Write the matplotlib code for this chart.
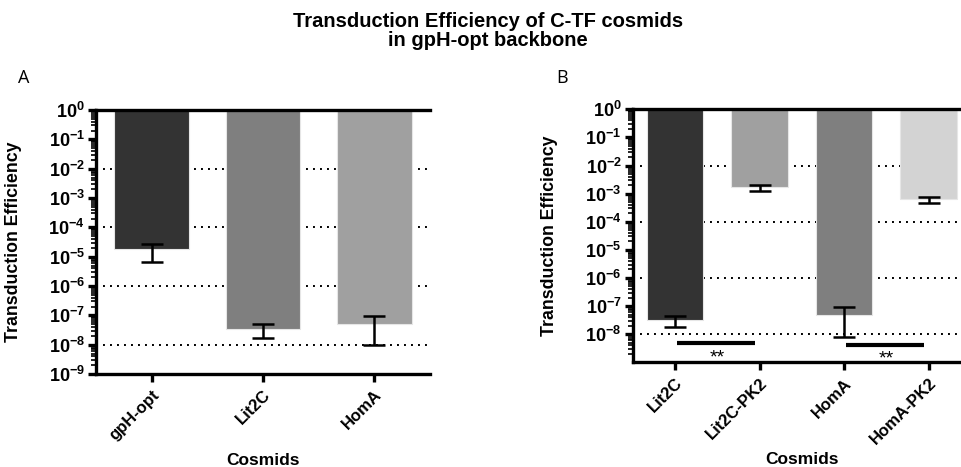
import numpy as np
import matplotlib
matplotlib.use("Agg")
import matplotlib.pyplot as plt
from matplotlib.ticker import FixedLocator, LogLocator, NullFormatter

plt.rcParams['font.family'] = ['Liberation Sans', 'DejaVu Sans']

# --- data ---
# panel A
cosmids_a = ['gpH-opt', 'Lit2C', 'HomA']
eff_a = [1.8e-5, 3.3e-8, 5.2e-8]
err_hi_a = [2.75e-5, 4.9e-8, 9.3e-8]
err_lo_a = [6.5e-6, 1.75e-8, 1.0e-8]
colors_a = ['#333333', '#7f7f7f', '#a0a0a0']

# panel B
cosmids_b = ['Lit2C', 'Lit2C-PK2', 'HomA', 'HomA-PK2']
eff_b = [3.2e-8, 1.7e-3, 5.0e-8, 6.3e-4]
err_hi_b = [4.5e-8, 2.1e-3, 9.5e-8, 7.8e-4]
err_lo_b = [1.75e-8, 1.27e-3, 8.1e-9, 4.8e-4]
colors_b = ['#333333', '#a0a0a0', '#7f7f7f', '#d3d3d3']

# significance brackets in panel B: (from bar, to bar, line level, label)
sig_pairs = [(0, 1, 4.8e-9, '**'), (2, 3, 4.1e-9, '**')]

grid_levels = [1e-2, 1e-4, 1e-6, 1e-8]


def style_axis(ax, exps):
    ax.set_yscale('log')
    ax.set_ylim(1e-9, 1e0)
    for lvl in grid_levels:
        ax.axhline(lvl, color='black', lw=1.4, linestyle=(0, (1, 2.6)), zorder=0)
    ax.yaxis.set_major_locator(FixedLocator([10.0 ** e for e in exps]))
    ax.yaxis.set_major_formatter(plt.FixedFormatter(
        [r'$\mathdefault{10^{%d}}$' % e for e in exps]))
    ax.yaxis.set_minor_locator(LogLocator(base=10, subs=np.arange(2, 10), numticks=30))
    ax.yaxis.set_minor_formatter(NullFormatter())
    for s in ['left', 'bottom', 'top']:
        ax.spines[s].set_linewidth(2.4)
    ax.spines['right'].set_visible(False)
    ax.tick_params(axis='y', which='major', length=6, width=2.4, labelsize=13, pad=2)
    ax.tick_params(axis='y', which='minor', length=3.5, width=1.2)
    ax.tick_params(axis='x', which='major', length=6, width=2.4)
    for lab in ax.get_yticklabels():
        lab.set_fontweight('bold')


def draw_bars(ax, names, vals, hi, lo, cols):
    x = np.arange(len(names))
    ax.bar(x, [1.0 - v for v in vals], bottom=vals, width=0.67,
           color=cols, edgecolor='#e6e6e6', linewidth=0.8, zorder=2)
    yerr = [np.array(vals) - np.array(lo), np.array(hi) - np.array(vals)]
    ax.errorbar(x, vals, yerr=yerr, fmt='none', ecolor='black', elinewidth=1.8,
                capsize=8, capthick=1.8, zorder=3)
    ax.set_xlim(-0.5, len(names) - 0.5)
    ax.set_xticks(x)
    ax.set_xticklabels(names, rotation=45, ha='right', rotation_mode='anchor',
                       fontweight='bold', fontsize=12)


fig = plt.figure(figsize=(9.61, 4.67), dpi=100)

ax_a = fig.add_axes([0.0999, 0.1991, 0.3476, 0.5653])
draw_bars(ax_a, cosmids_a, eff_a, err_hi_a, err_lo_a, colors_a)
style_axis(ax_a, range(0, -10, -1))

ax_b = fig.add_axes([0.6584, 0.2242, 0.352, 0.5418])
draw_bars(ax_b, cosmids_b, eff_b, err_hi_b, err_lo_b, colors_b)
style_axis(ax_b, range(0, -9, -1))

for i, j, lvl, txt in sig_pairs:
    ax_b.plot([i + 0.02, j - 0.05], [lvl, lvl], color='black', lw=3, solid_capstyle='butt', zorder=4)
    ax_b.text((i + j) / 2, lvl * 0.62, txt, ha='center', va='top', fontsize=14, zorder=4)

for ax, yl, xl in [(ax_a, -0.222, -0.326), (ax_b, -0.221, -0.386)]:
    ax.set_ylabel('Transduction Efficiency', fontsize=12.8, fontweight='bold')
    ax.yaxis.set_label_coords(yl, 0.5)
    ax.set_xlabel('Cosmids', fontsize=12.5, fontweight='bold')
    ax.xaxis.set_label_coords(0.5, xl)
    ax.xaxis.label.set_va('center')

fig.text(0.508, 0.975, 'Transduction Efficiency of C-TF cosmids\nin gpH-opt backbone',
         ha='center', va='top', fontsize=14.5, fontweight='bold', linespacing=1.0)
fig.text(0.025, 0.833, 'A', ha='center', va='center', fontsize=13, family='Open Sans')
fig.text(0.585, 0.833, 'B', ha='center', va='center', fontsize=13, family='Open Sans')

fig.savefig('out.png', dpi=100)
